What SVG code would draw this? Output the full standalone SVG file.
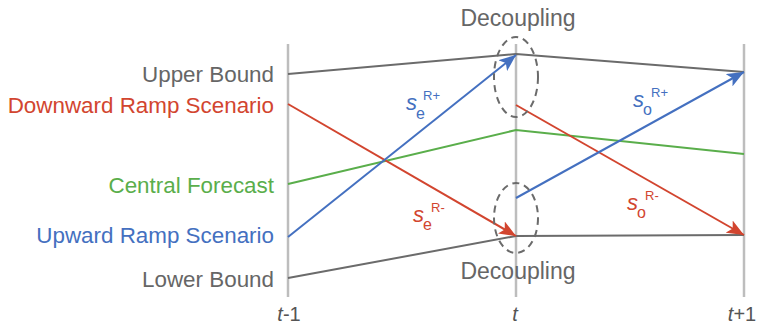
<svg xmlns="http://www.w3.org/2000/svg" width="758" height="326" viewBox="0 0 758 326">
<style>
text{font-family:"Liberation Sans",Arial,sans-serif}
.lbl{font-size:22.4px;text-anchor:end}
.axis{stroke:#bdbdbd;stroke-width:2.5;fill:none}
.ln{fill:none;stroke-width:2}
.gray{stroke:#6b6b6b}
.red{stroke:#d2452f}
.blue{stroke:#4470c0}
.green{stroke:#5aae4b}
.ell{fill:none;stroke:#6b6b6b;stroke-width:2;stroke-dasharray:7 5}
.s{font-style:italic;font-size:22px}
.sub{font-size:16px}
.sup{font-size:13px}
.tk{font-size:20px;fill:#555;text-anchor:middle}
.dec{font-size:23px;fill:#666;text-anchor:middle}
</style>
<defs>
<marker id="ab" markerUnits="userSpaceOnUse" markerWidth="18" markerHeight="14" refX="17" refY="7" orient="auto"><path d="M0,0 L17,7 L0,14 L4,7 Z" fill="#4470c0"/></marker>
<marker id="ar" markerUnits="userSpaceOnUse" markerWidth="18" markerHeight="14" refX="17" refY="7" orient="auto"><path d="M0,0 L17,7 L0,14 L4,7 Z" fill="#d2452f"/></marker>
</defs>
<g id="axes">
<line class="axis" x1="288" y1="44" x2="288" y2="297"/>
<line class="axis" x1="516" y1="44" x2="516" y2="297"/>
<line class="axis" x1="744" y1="44" x2="744" y2="297"/>
<text class="tk" x="289" y="321"><tspan font-style="italic">t</tspan>-1</text>
<text class="tk" x="515" y="321" font-style="italic">t</text>
<text class="tk" x="742" y="321"><tspan font-style="italic">t</tspan>+1</text>
</g>
<g id="connectors">
<polyline class="ln gray" points="288,74 516,54 744,72"/>
<polyline class="ln gray" points="288,278 516,236 744,235"/>
<polyline class="ln green" points="288,184 516,130 744,154"/>
<line class="ln red" x1="288" y1="104" x2="516" y2="236" marker-end="url(#ar)"/>
<line class="ln red" x1="516" y1="105" x2="744" y2="235" marker-end="url(#ar)"/>
<line class="ln blue" x1="288" y1="237" x2="516" y2="55" marker-end="url(#ab)"/>
<line class="ln blue" x1="516" y1="198" x2="744" y2="72" marker-end="url(#ab)"/>
</g>
<g id="labels">
<text class="lbl" x="274" y="82" fill="#666">Upper Bound</text>
<text class="lbl" x="274" y="113" fill="#d2452f">Downward Ramp Scenario</text>
<text class="lbl" x="274" y="193" fill="#5aae4b">Central Forecast</text>
<text class="lbl" x="274" y="243" fill="#4470c0">Upward Ramp Scenario</text>
<text class="lbl" x="274" y="287" fill="#666">Lower Bound</text>
</g>
<g id="decoupling-top">
<ellipse class="ell" cx="516" cy="77" rx="22" ry="40"/>
<text class="dec" x="518" y="26">Decoupling</text>
</g>
<g id="decoupling-bottom">
<ellipse class="ell" cx="516" cy="218" rx="22" ry="35"/>
<text class="dec" x="518" y="279">Decoupling</text>
</g>
<g id="se-plus" fill="#4470c0">
<text class="s" x="406" y="110">s</text><text class="sub" x="416" y="119">e</text><text class="sup" x="423" y="100">R+</text>
</g>
<g id="se-minus" fill="#d2452f">
<text class="s" x="413" y="222">s</text><text class="sub" x="423" y="230">e</text><text class="sup" x="431" y="212">R-</text>
</g>
<g id="so-plus" fill="#4470c0">
<text class="s" x="633" y="107">s</text><text class="sub" x="643" y="115">o</text><text class="sup" x="651" y="97">R+</text>
</g>
<g id="so-minus" fill="#d2452f">
<text class="s" x="627" y="210">s</text><text class="sub" x="637" y="218">o</text><text class="sup" x="645" y="200">R-</text>
</g>
</svg>
